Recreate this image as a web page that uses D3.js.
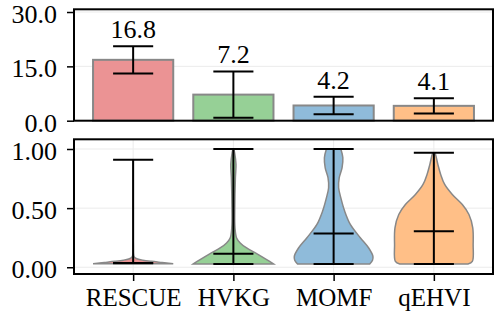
<!DOCTYPE html>
<html>
<head>
<meta charset="utf-8">
<script src="https://cdn.jsdelivr.net/npm/d3@7"></script>
<style>
  body { margin: 0; background: #fff; }
  svg { display: block; }
</style>
</head>
<body>
<svg id="chart" width="498" height="313"></svg>
<script>
// data
const methods = ['RESCUE', 'HVKG', 'MOMF', 'qEHVI'];
const colors = ['#d62728', '#2ca02c', '#1f77b4', '#ff7f0e'];
const meanValues = [16.8, 7.2, 4.2, 4.1];
const errValues = [3.75, 6.4, 2.4, 2.1];
const topTicks = [0, 15, 30];
const bottomTicks = [0, 0.5, 1.0];

// violin summary lines: min, median, max
const violinMin = [0.034, 0.028, 0.028, 0.028];
const violinMed = [0.036, 0.115, 0.285, 0.305];
const violinMax = [0.909, 1.0, 1.0, 0.969];

// violin outlines: [value, relative half-width]
const profileRESCUE = [[0.03, 1.0], [0.04, 0.72], [0.05, 0.45], [0.06, 0.24], [0.07, 0.11], [0.08, 0.05], [0.09, 0.02], [0.2, 0.004], [0.909, 0.0]];
const profileHVKG = [[0.028, 1.0], [0.064, 0.83], [0.115, 0.58], [0.163, 0.33], [0.206, 0.17], [0.248, 0.08], [0.333, 0.04], [0.5, 0.035], [0.757, 0.05], [0.87, 0.065], [0.97, 0.03], [1.0, 0.01]];
const profileMOMF = [[0.028, 0.9], [0.06, 0.97], [0.093, 0.98], [0.163, 0.875], [0.248, 0.67], [0.36, 0.42], [0.475, 0.275], [0.587, 0.18], [0.672, 0.125], [0.757, 0.14], [0.84, 0.21], [0.926, 0.23], [1.0, 0.18]];
const profileQEHVI = [[0.028, 0.85], [0.05, 0.96], [0.19, 0.98], [0.333, 0.97], [0.446, 0.875], [0.53, 0.71], [0.615, 0.46], [0.70, 0.27], [0.785, 0.17], [0.87, 0.1], [0.955, 0.04], [0.969, 0.02]];
const profiles = [profileRESCUE, profileHVKG, profileMOMF, profileQEHVI];

const svg = d3.select('#chart').attr('font-family', 'Liberation Serif');
const left = 74, right = 493;
const topPanel = { y0: 9.3, y1: 120.7 };
const botPanel = { y0: 139.3, y1: 274 };

const x = d3.scaleLinear().domain([-0.59, 3.59]).range([left, right]);
const yTop = d3.scaleLinear().domain([0, 30.75]).range([topPanel.y1, topPanel.y0]);
const yBot = d3.scaleLinear().domain([-0.057, 1.082]).range([botPanel.y1, botPanel.y0]);
const barW = x(0.4) - x(0);
const capW = x(0.2) - x(0);
const numSize = 26, labelSize = 25;
const gridColor = '#ebebeb';

function fillColor(c) {
    // alpha 0.5 over white
    const rgb = d3.rgb(c);
    return d3.rgb((rgb.r + 255) / 2, (rgb.g + 255) / 2, (rgb.b + 255) / 2).formatHex();
}

// ----- top panel -----
const gTop = svg.append('g');
gTop.selectAll('line.grid')
    .data(topTicks)
    .enter()
    .append('line')
    .attr('x1', left).attr('x2', right)
    .attr('y1', d => yTop(d)).attr('y2', d => yTop(d))
    .attr('stroke', gridColor).attr('stroke-width', 1);

gTop.selectAll('rect.bar')
    .data(meanValues)
    .enter()
    .append('rect')
    .attr('x', (d, i) => x(i) - barW)
    .attr('width', barW * 2)
    .attr('y', d => yTop(d))
    .attr('height', d => yTop(0) - yTop(d))
    .attr('fill', (d, i) => fillColor(colors[i]))
    .attr('stroke', '#888')
    .attr('stroke-width', 2);

meanValues.forEach((m, i) => {
    const hi = m + errValues[i], lo = m - errValues[i];
    const cx = x(i);
    gTop.append('line').attr('x1', cx).attr('x2', cx).attr('y1', yTop(hi)).attr('y2', yTop(lo))
        .attr('stroke', '#000').attr('stroke-width', 2);
    [hi, lo].forEach(v => {
        gTop.append('line').attr('x1', cx - capW).attr('x2', cx + capW)
            .attr('y1', yTop(v)).attr('y2', yTop(v))
            .attr('stroke', '#000').attr('stroke-width', 2);
    });
    gTop.append('text')
        .attr('x', cx).attr('y', yTop(hi) - 8)
        .attr('text-anchor', 'middle')
        .attr('font-size', numSize)
        .attr('font-family', 'Liberation Serif')
        .text(m.toFixed(1));
});

gTop.append('g')
    .attr('class', 'yaxis')
    .attr('transform', 'translate(' + left + ',0)')
    .call(d3.axisLeft(yTop).tickValues(topTicks).tickFormat(d3.format('.1f')).tickSize(7).tickPadding(10));

gTop.append('rect')
    .attr('x', left).attr('y', topPanel.y0)
    .attr('width', right - left).attr('height', topPanel.y1 - topPanel.y0)
    .attr('fill', 'none').attr('stroke', '#000').attr('stroke-width', 2);

// ----- bottom panel -----
const gBot = svg.append('g');
gBot.selectAll('line.hgrid')
    .data(bottomTicks)
    .enter()
    .append('line')
    .attr('x1', left).attr('x2', right)
    .attr('y1', d => yBot(d)).attr('y2', d => yBot(d))
    .attr('stroke', gridColor).attr('stroke-width', 1);
gBot.selectAll('line.vgrid')
    .data(methods)
    .enter()
    .append('line')
    .attr('x1', (d, i) => x(i)).attr('x2', (d, i) => x(i))
    .attr('y1', botPanel.y0).attr('y2', botPanel.y1)
    .attr('stroke', gridColor).attr('stroke-width', 1);

profiles.forEach((prof, i) => {
    const cx = x(i);
    const area = d3.area()
        .curve(d3.curveCatmullRom)
        .y(d => yBot(d[0]))
        .x0(d => cx - d[1] * barW)
        .x1(d => cx + d[1] * barW);
    gBot.append('path')
        .attr('d', area(prof))
        .attr('fill', fillColor(colors[i]))
        .attr('stroke', '#888')
        .attr('stroke-width', 1.5);
});

methods.forEach((m, i) => {
    const cx = x(i);
    gBot.append('line').attr('x1', cx).attr('x2', cx)
        .attr('y1', yBot(violinMax[i])).attr('y2', yBot(violinMin[i]))
        .attr('stroke', '#000').attr('stroke-width', 2);
    [violinMin[i], violinMed[i], violinMax[i]].forEach(v => {
        gBot.append('line').attr('x1', cx - capW).attr('x2', cx + capW)
            .attr('y1', yBot(v)).attr('y2', yBot(v))
            .attr('stroke', '#000').attr('stroke-width', 2);
    });
});

gBot.append('g')
    .attr('class', 'yaxis')
    .attr('transform', 'translate(' + left + ',0)')
    .call(d3.axisLeft(yBot).tickValues(bottomTicks).tickFormat(d3.format('.2f')).tickSize(7).tickPadding(10));

gBot.append('g')
    .attr('class', 'xaxis')
    .attr('transform', 'translate(0,' + botPanel.y1 + ')')
    .call(d3.axisBottom(x).tickValues(d3.range(methods.length)).tickFormat(i => methods[i]).tickSize(7).tickPadding(7.5));

gBot.append('rect')
    .attr('x', left).attr('y', botPanel.y0)
    .attr('width', right - left).attr('height', botPanel.y1 - botPanel.y0)
    .attr('fill', 'none').attr('stroke', '#000').attr('stroke-width', 2);

// axis styling
svg.selectAll('.domain').remove();
svg.selectAll('.tick line').attr('stroke', '#000').attr('stroke-width', 1.5);
svg.selectAll('.yaxis, .xaxis').attr('font-family', 'Liberation Serif');
svg.selectAll('.yaxis .tick text')
    .attr('fill', '#000')
    .attr('font-size', numSize)
    .attr('dy', '0.4em');
svg.selectAll('.xaxis .tick text')
    .attr('fill', '#000')
    .attr('font-size', labelSize);
</script>
</body>
</html>
